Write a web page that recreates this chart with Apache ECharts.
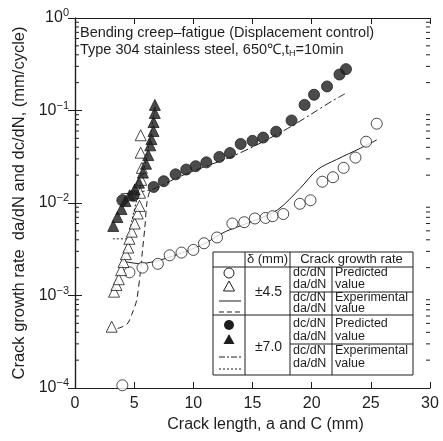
<!DOCTYPE html>
<html>
<head>
<meta charset="utf-8">
<script src="https://cdn.jsdelivr.net/npm/echarts@6/dist/echarts.min.js"></script>
<style>html,body{margin:0;padding:0;background:#fff}#main{width:443px;height:441px}</style>
</head>
<body>
<div id="main"></div>
<script>
// delta = ±4.5 mm
var dc45Pred = [[4.0,1.07e-4],[4.6,1.78e-3],[5.7,2.0e-3],[7.0,2.2e-3],[8.0,2.72e-3],[9.0,2.91e-3],[10.0,3.11e-3],[10.9,3.67e-3],[12.0,4.24e-3],[13.3,6.0e-3],[14.3,6.2e-3],[15.2,6.8e-3],[16.1,6.9e-3],[16.7,7.2e-3],[17.6,7.6e-3],[19.0,9.8e-3],[19.9,1.07e-2],[20.9,1.7e-2],[21.8,1.9e-2],[22.7,2.4e-2],[23.7,3.1e-2],[24.6,4.6e-2],[25.5,7.2e-2]];
var da45Pred = [[3.1,4.6e-4],[3.3,1.1e-3],[3.5,1.3e-3],[3.7,1.5e-3],[3.9,1.88e-3],[4.1,2.3e-3],[4.3,2.8e-3],[4.5,3.3e-3],[4.6,4.1e-3],[4.8,4.9e-3],[5.05,6.0e-3],[5.3,7.7e-3],[5.45,9.3e-3],[5.5,1.29e-2],[5.6,1.78e-2],[5.65,2.4e-2],[5.55,3.5e-2],[5.55,5.4e-2]];
var dc45Exp = [[3.95,2.36e-3],[5.5,2.21e-3],[7.2,2.42e-3],[9.3,2.97e-3],[11.0,3.67e-3],[12.7,4.9e-3],[14.8,6.2e-3],[17.1,8.4e-3],[19.0,1.43e-2],[20.5,2.3e-2],[22.1,2.95e-2],[24.1,3.9e-2],[25.5,4.8e-2]];
var da45Exp = [[3.6,4.4e-4],[4.4,4.9e-4],[4.8,6.25e-4],[5.2,8.8e-4],[5.5,1.68e-3],[5.7,3.05e-3],[5.9,5.4e-3],[6.1,1.06e-2],[6.4,1.46e-2]];
// delta = ±7.0 mm
var dc70Pred = [[4.0,1.07e-2],[4.95,1.2e-2],[6.65,1.49e-2],[7.5,1.72e-2],[8.5,2.04e-2],[9.4,2.3e-2],[10.2,2.5e-2],[11.1,2.75e-2],[12.2,3.15e-2],[13.1,3.47e-2],[14.0,4.35e-2],[15.0,4.7e-2],[15.9,5.1e-2],[17.0,5.9e-2],[18.3,7.8e-2],[19.4,0.115],[20.2,0.148],[21.3,0.182],[22.35,0.245],[22.9,0.28]];
var da70Pred = [[3.23,5.65e-3],[3.58,7.06e-3],[3.93,8.6e-3],[4.27,1.05e-2],[4.62,1.21e-2],[5.05,1.4e-2],[5.4,1.66e-2],[5.74,2.13e-2],[6.0,2.66e-2],[6.19,3.3e-2],[6.36,4.2e-2],[6.46,4.9e-2],[6.63,6.0e-2],[6.64,7.5e-2],[6.74,9.4e-2],[6.75,0.115]];
var dc70Exp = [[3.86,1.25e-2],[6.4,1.39e-2],[8.5,1.84e-2],[9.8,2.17e-2],[13.2,3.16e-2],[15.75,4.5e-2],[18.3,6.76e-2],[20.0,9.2e-2],[21.7,0.126],[22.8,0.151]];
var da70Exp = [[3.2,4.1e-3],[4.4,4.1e-3],[4.8,6.5e-3],[5.3,1.2e-2],[5.8,2.2e-2],[6.2,4e-2],[6.6,8e-2],[6.8,0.12]];

// minor ticks of the log axis (2..9 in each decade)
var decades = [1e-4, 1e-3, 1e-2, 1e-1];
var minorTicks = [];
decades.forEach(function (d) {
    for (var k = 2; k <= 9; k++) minorTicks.push([0, d * k]);
});

var ink = '#1e1e1e';
var font = 'Liberation Sans';

var chart = echarts.init(document.getElementById('main'));

function supLabel(v) {
    var e = Math.round(Math.log10(v));
    return '{b|10}{s|' + (e === 0 ? '0' : '\u2212' + (-e)) + '}';
}

var axisCommon = {
    axisLine: {lineStyle: {color: ink, width: 1.2}},
    splitLine: {show: false}
};

function lineSeries(name, data, type) {
    return {
        name: name, type: 'line', data: data, showSymbol: false, symbol: 'none',
        smooth: 0.3, z: 2,
        lineStyle: {color: ink, width: 1, type: type}
    };
}
function scatterSeries(name, data, symbol, filled, size) {
    return {
        name: name, type: 'scatter', data: data, symbol: symbol, symbolSize: size, z: 3,
        itemStyle: {color: filled ? ink : '#fff', borderColor: ink, borderWidth: 1}
    };
}

// legend table (drawn as plain graphic elements, absolute pixel layout)
var tx0 = 213, tx1 = 245, tx2 = 290, tx3 = 332, tx4 = 413;
var ty = [252, 267, 292, 315, 344, 375];
function hl(x1, x2, y) { return {type: 'line', z: 101, shape: {x1: x1, y1: y, x2: x2, y2: y}, style: {stroke: ink, lineWidth: 1}}; }
function vl(x, y1, y2) { return {type: 'line', z: 101, shape: {x1: x, y1: y1, x2: x, y2: y2}, style: {stroke: ink, lineWidth: 1}}; }
function txt(x, y, s, align, size) {
    return {type: 'text', x: x, y: y, z: 102, style: {text: s, fontSize: size || 12.5, fontFamily: font, fill: ink, align: align || 'left', verticalAlign: 'middle'}};
}
function lgLine(y, dash) {
    return {type: 'line', z: 101, shape: {x1: 219, y1: y, x2: 241, y2: y}, style: {stroke: ink, lineWidth: 1, lineDash: dash}};
}
var table = [
    {type: 'rect', z: 100, shape: {x: tx0, y: ty[0], width: tx4 - tx0, height: ty[5] - ty[0]}, style: {fill: '#fff', stroke: ink, lineWidth: 1}},
    hl(tx0, tx4, ty[1]), hl(tx2, tx4, ty[2]), hl(tx0, tx4, ty[3]), hl(tx2, tx4, ty[4]),
    vl(tx1, ty[0], ty[5]), vl(tx2, ty[0], ty[5]), vl(tx3, ty[1], ty[5]),
    txt((tx1 + tx2) / 2, 259.5, '\u03b4 (mm)', 'center', 13),
    txt((tx2 + tx4) / 2, 259.5, 'Crack growth rate', 'center', 13),
    txt((tx1 + tx2) / 2 + 1, 292, '\u00b14.5', 'center', 14),
    txt((tx1 + tx2) / 2 + 1, 347, '\u00b17.0', 'center', 14),
    txt(293, 273, 'dc/dN'), txt(293, 285, 'da/dN'), txt(335, 273, 'Predicted'), txt(335, 285, 'value'),
    txt(293, 298, 'dc/dN'), txt(293, 309, 'da/dN'), txt(335, 298, 'Experimental'), txt(335, 309, 'value'),
    txt(293, 324, 'dc/dN'), txt(293, 337, 'da/dN'), txt(335, 324, 'Predicted'), txt(335, 337, 'value'),
    txt(293, 351, 'dc/dN'), txt(293, 364, 'da/dN'), txt(335, 351, 'Experimental'), txt(335, 364, 'value'),
    {type: 'circle', z: 101, shape: {cx: 229, cy: 273, r: 5}, style: {fill: '#fff', stroke: ink, lineWidth: 1}},
    {type: 'polygon', z: 101, shape: {points: [[229, 281], [234.5, 291], [223.5, 291]]}, style: {fill: '#fff', stroke: ink, lineWidth: 1}},
    lgLine(301, null), lgLine(312, [5, 3]),
    {type: 'circle', z: 101, shape: {cx: 229, cy: 325, r: 5}, style: {fill: ink}},
    {type: 'polygon', z: 101, shape: {points: [[229, 334], [234.5, 344], [223.5, 344]]}, style: {fill: ink}},
    lgLine(357, [6, 2, 2, 2]), lgLine(369, [2, 2])
];

var titles = [
    {type: 'text', x: 80, y: 33, style: {text: 'Bending creep\u2013fatigue (Displacement control)', fontSize: 14.5, fontFamily: font, fill: ink, verticalAlign: 'middle'}},
    {type: 'text', x: 80, y: 50, style: {
        text: 'Type 304 stainless steel, 650\u2103,t{sub|H}=10min', fontSize: 14.5, fontFamily: font, fill: ink, verticalAlign: 'middle',
        rich: {sub: {fontSize: 9, fontFamily: font, fill: ink, padding: [8, 0, 0, 0]}}
    }}
];

chart.setOption({
    backgroundColor: '#fff',
    animation: false,
    grid: {left: 75, top: 18, width: 355, height: 370},
    xAxis: [
        Object.assign({
            type: 'value', min: 0, max: 30, interval: 5,
            name: 'Crack length, a and C (mm)', nameLocation: 'middle', nameGap: 25,
            nameTextStyle: {fontSize: 16, fontFamily: font, color: ink, padding: [0, 0, 0, 26]},
            axisTick: {inside: true, length: 6, lineStyle: {color: ink}},
            axisLabel: {fontSize: 16, fontFamily: font, color: ink, margin: 8}
        }, axisCommon),
        Object.assign({
            type: 'value', min: 0, max: 30, interval: 5, position: 'top',
            axisTick: {inside: true, length: 6, lineStyle: {color: ink}},
            axisLabel: {show: false}
        }, axisCommon)
    ],
    yAxis: [
        Object.assign({
            type: 'log', logBase: 10, min: 1e-4, max: 1,
            name: 'Crack growth rate  da/dN and dc/dN, (mm/cycle)', nameLocation: 'middle', nameGap: 40,
            nameTextStyle: {fontSize: 16.5, fontFamily: font, color: ink},
            axisTick: {inside: true, length: 7, lineStyle: {color: ink}},
            axisLabel: {
                formatter: supLabel, margin: 6,
                rich: {
                    b: {fontSize: 16, fontFamily: font, color: ink},
                    s: {fontSize: 11, fontFamily: font, color: ink, padding: [0, 0, 10, 0]}
                }
            }
        }, axisCommon),
        Object.assign({
            type: 'log', logBase: 10, min: 1e-4, max: 1, position: 'right',
            axisTick: {inside: true, length: 7, lineStyle: {color: ink}},
            axisLabel: {show: false}
        }, axisCommon)
    ],
    graphic: titles.concat(table),
    series: [
        {
            type: 'custom', data: minorTicks, silent: true, clip: false, z: 1,
            encode: {x: 0, y: 1},
            renderItem: function (params, api) {
                var v = api.value(1);
                var l = api.coord([0, v]), r = api.coord([30, v]);
                return {type: 'group', children: [
                    {type: 'line', shape: {x1: l[0], y1: l[1], x2: l[0] + 4, y2: l[1]}, style: {stroke: ink, lineWidth: 1}},
                    {type: 'line', shape: {x1: r[0], y1: r[1], x2: r[0] - 4, y2: r[1]}, style: {stroke: ink, lineWidth: 1}}
                ]};
            }
        },
        lineSeries('dc/dN exp 4.5', dc45Exp, 'solid'),
        lineSeries('da/dN exp 4.5', da45Exp, [6, 4]),
        lineSeries('dc/dN exp 7.0', dc70Exp, [8, 3, 2, 3]),
        lineSeries('da/dN exp 7.0', da70Exp, [2, 2]),
        scatterSeries('dc/dN pred 4.5', dc45Pred, 'circle', false, 11),
        scatterSeries('da/dN pred 4.5', da45Pred, 'triangle', false, 11),
        scatterSeries('dc/dN pred 7.0', dc70Pred, 'circle', true, 11),
        scatterSeries('da/dN pred 7.0', da70Pred, 'triangle', true, 11)
    ]
});
</script>
</body>
</html>
